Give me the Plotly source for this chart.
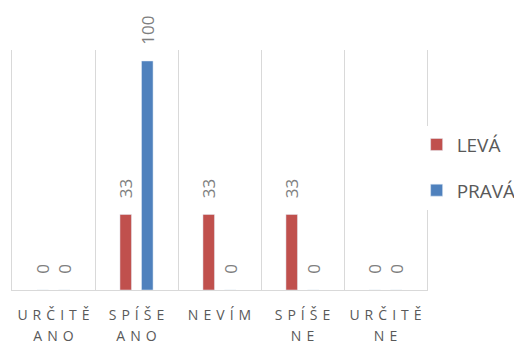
import plotly.graph_objects as go

sep = " \u200a"
line1 = ["URČITĚ", "SPÍŠE", "NEVÍM", "SPÍŠE", "URČITĚ"]
line2 = ["ANO", "ANO", "", "NE", "NE"]
categories = ["URČITĚ ANO", "SPÍŠE ANO", "NEVÍM", "SPÍŠE NE", "URČITĚ NE"]
leva = [0, 33, 33, 33, 0]
prava = [0, 100, 0, 0, 0]
series_names = ["LEVÁ", "PRAVÁ"]
colors = ["#C0504D", "#4F81BD"]

spaced = lambda w: sep.join(w)

fig = go.Figure()
for i, (name, vals) in enumerate(zip(series_names, [leva, prava])):
    fig.add_trace(go.Bar(
        x=categories, y=vals, name=name, marker_color=colors[i],
        text=["   " + str(v) for v in vals], textposition="outside", textangle=-90,
        constraintext="none",
        textfont=dict(size=17, color="#7f7f7f", family="Open Sans"),
        cliponaxis=False, legendgroup=name,
    ))
# invisible helper trace so the second label row axis is drawn
fig.add_trace(go.Scatter(x=categories, y=[None] * len(categories), xaxis="x2",
                         showlegend=False, hoverinfo="skip", mode="markers"))

tickfont = dict(size=14, color="#595959", family="Open Sans")
fig.update_layout(
    width=514, height=337,
    margin=dict(l=4, r=95, t=42, b=55, autoexpand=False),
    paper_bgcolor="white", plot_bgcolor="white",
    barmode="group", bargap=0.48, bargroupgap=0.465,
    font=dict(family="Open Sans", color="#595959"),
    showlegend=True,
    legend=dict(x=0.975, y=0.51, yanchor="middle", xanchor="left",
                font=dict(size=19, color="#595959"), tracegroupgap=18,
                traceorder="grouped"),
    xaxis=dict(tickson="boundaries", showgrid=True, gridcolor="#d9d9d9", gridwidth=1.3,
               showline=True, linecolor="#d9d9d9", linewidth=1.3, ticks="",
               tickmode="array", tickvals=categories,
               ticktext=[spaced(w) for w in line1],
               tickfont=tickfont, tickangle=0, ticklabelstandoff=12),
    xaxis2=dict(overlaying="x", anchor="y", side="bottom", type="category",
                range=[-0.5, 4.5], categoryarray=categories, categoryorder="array",
                showgrid=False, showline=False, zeroline=False, ticks="",
                tickmode="array", tickvals=categories,
                ticktext=[spaced(w) for w in line2],
                tickfont=tickfont, tickangle=0, ticklabelstandoff=36),
    yaxis=dict(range=[0, 104.8], showticklabels=False, showgrid=False, zeroline=False,
               showline=True, mirror=True, linecolor="#d9d9d9", linewidth=1.3, ticks=""),
)
fig.write_html("out.html")
